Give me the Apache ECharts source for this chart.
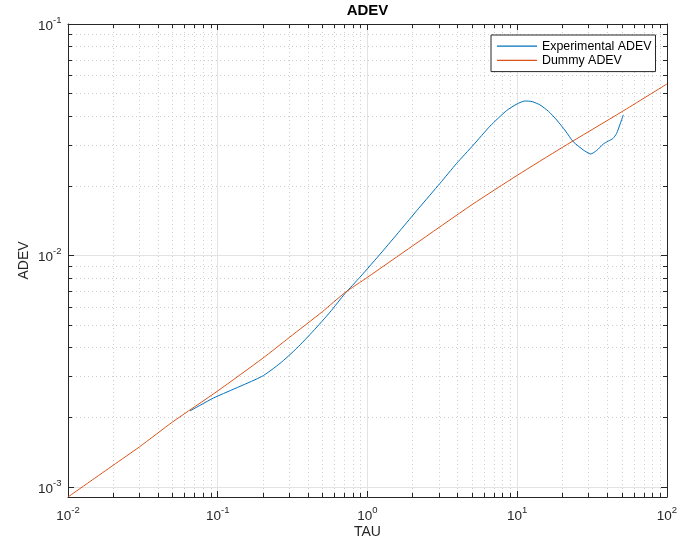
<!DOCTYPE html>
<html>
<head>
<meta charset="utf-8">
<script src="https://cdn.jsdelivr.net/npm/echarts@6/dist/echarts.min.js"></script>
<style>
  html, body { margin: 0; padding: 0; background: #fff; }
  #chart { width: 680px; height: 546px; }
</style>
</head>
<body>
<div id="chart"></div>
<script>
// Allan deviation curves (tau in seconds)
const expTau  = [0.0653, 0.0934, 0.1965, 0.2606, 0.3365, 0.4345, 0.5617, 0.7075, 0.891, 1.25, 1.648, 2.2, 3.05, 3.94, 5.09, 6.58, 8.5, 10.0, 11.27, 12.6, 14.19, 16.2, 18.34, 21.0, 23.66, 27.6, 30.9, 33.9, 37.55, 40.5, 43.5, 46.1, 51.1];
const expAdev = [0.00213, 0.00242, 0.00300, 0.00342, 0.00397, 0.00472, 0.00569, 0.00685, 0.00806, 0.01036, 0.0128, 0.0160, 0.0205, 0.0250, 0.0300, 0.0362, 0.0423, 0.0452, 0.0465, 0.0462, 0.0447, 0.0419, 0.0385, 0.0345, 0.0310, 0.02858, 0.02744, 0.0284, 0.0303, 0.0312, 0.0320, 0.0337, 0.0405];

const dummyTau  = [0.01, 0.02, 0.03, 0.05, 0.1, 0.2, 0.3, 0.5, 0.707, 1, 2, 5, 10, 20, 50, 100];
const dummyAdev = [0.000905, 0.00124, 0.00149, 0.00191, 0.00260, 0.00360, 0.00442, 0.00572, 0.00691, 0.00805, 0.01100, 0.0166, 0.0222, 0.0293, 0.0418, 0.0551];

// Decade ticks on both axes
const xDecades = [0.01, 0.1, 1, 10, 100];
const yDecades = [0.001, 0.01, 0.1];

const xMin = 0.01, xMax = 100;
const yMin = dummyAdev[0], yMax = 0.1;

const EXP_COLOR = '#0072BD';
const DUMMY_COLOR = '#D95319';

// 2..9 multiples of each decade that fall inside the axis range
function minorTicks(decades, lo, hi) {
  const out = [];
  const all = [decades[0] / 10].concat(decades);
  for (let i = 0; i < all.length; i++) {
    for (let m = 2; m <= 9; m++) {
      const v = +(all[i] * m).toPrecision(6);
      if (v > lo && v < hi) out.push(v);
    }
  }
  return out;
}
const xMinor = minorTicks(xDecades, xMin, xMax);
const yMinor = minorTicks(yDecades, yMin, yMax);

const FONT = '"Liberation Sans", Arial, Helvetica, sans-serif';
const AX = '#262626';

const powLabel = v => {
  const e = Math.round(Math.log10(v));
  return '{b|10}{s|' + (e < 0 ? '-' + (-e) : e) + '}';
};
const richLab = {
  b: { fontSize: 13.5, fontFamily: FONT, color: AX, lineHeight: 18, verticalAlign: 'bottom' },
  s: { fontSize: 9.5, fontFamily: FONT, color: AX, lineHeight: 9, verticalAlign: 'top' }
};

const majorGrid = { color: '#e3e3e3', width: 1 };
const minorGrid = { color: '#cdcdcd', width: 1, type: [1, 3] };

function xAxisDef(pos, major, withLabels, grid) {
  return {
    type: 'log', logBase: 10, min: xMin, max: xMax, position: pos,
    name: withLabels ? 'TAU' : '', nameLocation: 'middle', nameGap: 28, nameMoveOverlap: false,
    nameTextStyle: { fontSize: 14, fontFamily: FONT, color: AX },
    axisLine: { show: major, onZero: false, lineStyle: { color: AX, width: 1 } },
    axisTick: { show: true, inside: true, length: major ? 6 : 4, customValues: major ? xDecades : xMinor,
                lineStyle: { color: AX, width: 1 } },
    axisLabel: { show: withLabels, customValues: xDecades, formatter: powLabel, rich: richLab, margin: 8 },
    splitLine: { show: grid, lineStyle: major ? majorGrid : minorGrid },
    minorTick: { show: false }, minorSplitLine: { show: false }
  };
}
function yAxisDef(pos, major, withLabels, grid) {
  return {
    type: 'log', logBase: 10, min: yMin, max: yMax, position: pos,
    name: withLabels ? 'ADEV' : '', nameLocation: 'middle', nameGap: 37, nameMoveOverlap: false,
    nameTextStyle: { fontSize: 14, fontFamily: FONT, color: AX },
    axisLine: { show: major, onZero: false, lineStyle: { color: AX, width: 1 } },
    axisTick: { show: true, inside: true, length: major ? 6 : 4, customValues: major ? yDecades : yMinor,
                lineStyle: { color: AX, width: 1 } },
    axisLabel: { show: withLabels, customValues: yDecades, formatter: powLabel, rich: richLab, margin: 6.5 },
    splitLine: { show: grid, lineStyle: major ? majorGrid : minorGrid },
    minorTick: { show: false }, minorSplitLine: { show: false }
  };
}

const chart = echarts.init(document.getElementById('chart'), null, { renderer: 'canvas' });
chart.setOption({
  animation: false,
  backgroundColor: '#fff',
  title: {
    text: 'ADEV', left: 367.5, top: 3, padding: 0, textAlign: 'center',
    textStyle: { fontSize: 15, fontWeight: 'bold', fontFamily: FONT, color: '#000' }
  },
  grid: { left: 68, right: 13, top: 24, bottom: 49, outerBoundsMode: 'none' },
  legend: {
    orient: 'vertical', left: 491, top: 35,
    padding: [4, 4, 4, 6], itemGap: 0, itemWidth: 40, itemHeight: 1.2,
    backgroundColor: '#fff', borderColor: AX, borderWidth: 1,
    textStyle: { fontSize: 12.4, fontFamily: FONT, color: '#000', lineHeight: 14.3 },
    data: [
      { name: 'Experimental ADEV', icon: 'rect', itemStyle: { color: EXP_COLOR, borderWidth: 0 } },
      { name: 'Dummy ADEV', icon: 'rect', itemStyle: { color: DUMMY_COLOR, borderWidth: 0 } }
    ]
  },
  xAxis: [
    xAxisDef('bottom', true, true, true),
    xAxisDef('bottom', false, false, true),
    xAxisDef('top', true, false, false),
    xAxisDef('top', false, false, false)
  ],
  yAxis: [
    yAxisDef('left', true, true, true),
    yAxisDef('left', false, false, true),
    yAxisDef('right', true, false, false),
    yAxisDef('right', false, false, false)
  ],
  series: [
    {
      name: 'Experimental ADEV', type: 'line', xAxisIndex: 0, yAxisIndex: 0,
      data: expTau.map((t, i) => [t, expAdev[i]]),
      symbol: 'none', smooth: 0.2, lineStyle: { color: EXP_COLOR, width: 1 }, itemStyle: { color: EXP_COLOR }
    },
    {
      name: 'Dummy ADEV', type: 'line', xAxisIndex: 0, yAxisIndex: 0,
      data: dummyTau.map((t, i) => [t, dummyAdev[i]]),
      symbol: 'none', smooth: 0.2, lineStyle: { color: DUMMY_COLOR, width: 1 }, itemStyle: { color: DUMMY_COLOR }
    }
  ]
});
</script>
</body>
</html>
